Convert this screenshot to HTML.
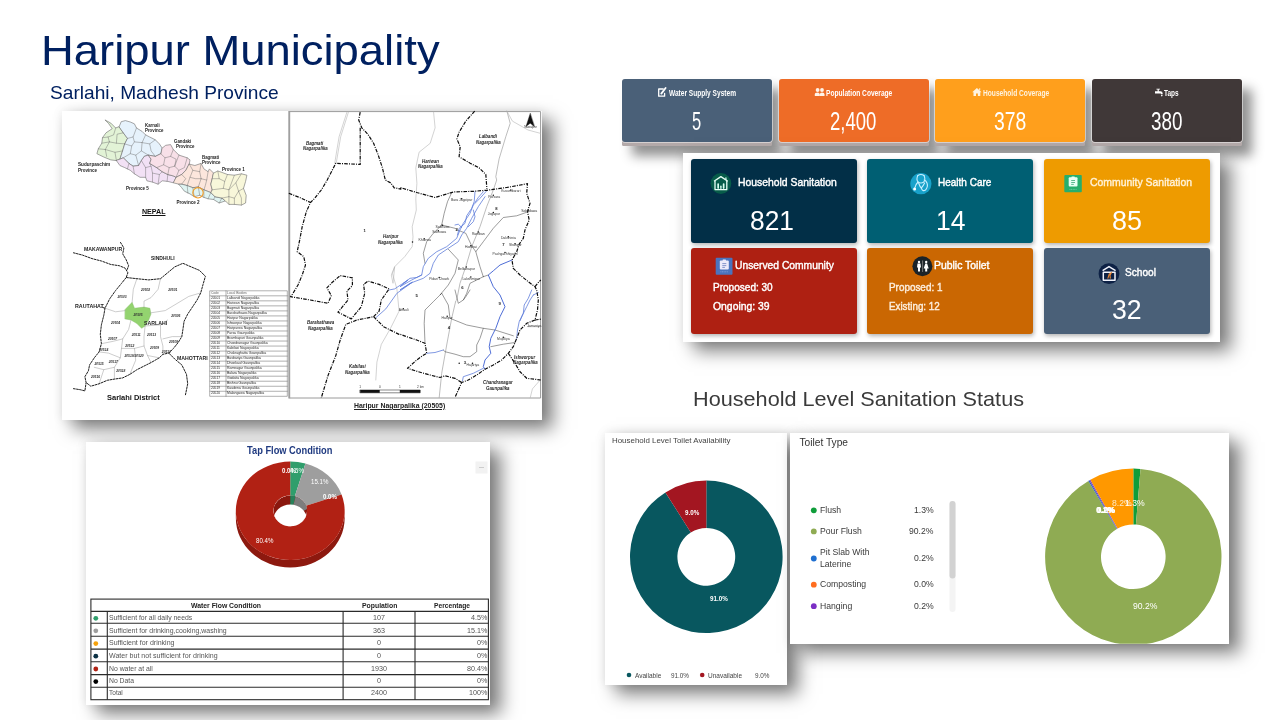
<!DOCTYPE html>
<html><head><meta charset="utf-8"><title>Haripur Municipality</title>
<style>
html,body{margin:0;padding:0;}
body{width:1280px;height:720px;overflow:hidden;background:#fff;position:relative;font-family:"Liberation Sans",sans-serif;}
.t{position:absolute;white-space:nowrap;line-height:1;transform-origin:0 0;font-family:"Liberation Sans",sans-serif;}
.abs{position:absolute;}
.panel{position:absolute;background:#fff;}
.card{position:absolute;border-radius:3px;}
svg{position:absolute;left:0;top:0;overflow:visible;}
</style></head><body>

<!-- map panel -->
<div class="panel" style="left:62px;top:111px;width:480px;height:309px;box-shadow:11px 9px 17px rgba(0,0,0,.5), 0 0 10px rgba(0,0,0,.09);"></div>

<!-- tap flow panel -->
<div class="panel" style="left:86px;top:442px;width:404px;height:263px;box-shadow:11px 9px 17px rgba(0,0,0,.5), 0 0 10px rgba(0,0,0,.09);"></div>

<!-- top cards -->
<div class="card" style="left:622px;top:78.5px;width:150px;height:67.3px;background:#b3a9a9;border-radius:3px 3px 1.5px 1.5px;box-shadow:10px 10px 12px rgba(0,0,0,.43);"><div style="height:63.2px;border-radius:3px;box-shadow:0 0 0 .8px rgba(255,255,255,.6);background:#4a6078"></div></div>
<div class="card" style="left:778.7px;top:78.5px;width:150px;height:67.3px;background:#b3a9a9;border-radius:3px 3px 1.5px 1.5px;box-shadow:10px 10px 12px rgba(0,0,0,.43);"><div style="height:63.2px;border-radius:3px;box-shadow:0 0 0 .8px rgba(255,255,255,.6);background:#ee6c27"></div></div>
<div class="card" style="left:935.3px;top:78.5px;width:150px;height:67.3px;background:#b3a9a9;border-radius:3px 3px 1.5px 1.5px;box-shadow:10px 10px 12px rgba(0,0,0,.43);"><div style="height:63.2px;border-radius:3px;box-shadow:0 0 0 .8px rgba(255,255,255,.6);background:#ff9f1c"></div></div>
<div class="card" style="left:1092px;top:78.5px;width:150px;height:67.3px;background:#b3a9a9;border-radius:3px 3px 1.5px 1.5px;box-shadow:10px 10px 12px rgba(0,0,0,.43);"><div style="height:63.2px;border-radius:3px;box-shadow:0 0 0 .8px rgba(255,255,255,.6);background:#403838"></div></div>

<!-- second panel -->
<div class="panel" style="left:683px;top:153px;width:537px;height:189px;box-shadow:11px 9px 17px rgba(0,0,0,.5), 0 0 10px rgba(0,0,0,.09);"></div>
<div class="card" style="left:691px;top:159px;width:166px;height:84px;background:#022f47;box-shadow:1px 2px 4px rgba(0,0,0,.3);"></div>
<div class="card" style="left:867.3px;top:159px;width:166px;height:84px;background:#005f73;box-shadow:1px 2px 4px rgba(0,0,0,.3);"></div>
<div class="card" style="left:1044px;top:159px;width:166px;height:84px;background:#ee9b00;box-shadow:1px 2px 4px rgba(0,0,0,.3);"></div>
<div class="card" style="left:691px;top:248.3px;width:166px;height:85.5px;background:#ae2012;box-shadow:1px 2px 4px rgba(0,0,0,.3);"></div>
<div class="card" style="left:867.3px;top:248.3px;width:166px;height:85.5px;background:#ca6702;box-shadow:1px 2px 4px rgba(0,0,0,.3);"></div>
<div class="card" style="left:1044px;top:248.3px;width:166px;height:85.5px;background:#4a6078;box-shadow:1px 2px 4px rgba(0,0,0,.3);"></div>

<!-- left donut panel -->
<div class="panel" style="left:605px;top:432.7px;width:182px;height:252px;box-shadow:11px 9px 17px rgba(0,0,0,.5), 0 0 10px rgba(0,0,0,.09);"></div>
<!-- toilet type panel -->
<div class="panel" style="left:790px;top:432.7px;width:439.2px;height:211px;box-shadow:11px 9px 17px rgba(0,0,0,.5), 0 0 10px rgba(0,0,0,.09);overflow:hidden;"></div>

<!-- graphics -->
<svg width="1280" height="720" viewBox="0 0 1280 720">
<g id="map" fill="none" stroke-linejoin="round" stroke-linecap="round">
<rect x="288.3" y="111" width="1.9" height="287.5" fill="#a0a0a0"/>
<path d="M290 111.6H540.6V398H290" stroke="#9a9a9a" stroke-width="1"/>
<path d="M105.3 120.1L110.8 123.1L115.7 128.0L119.2 126.6L123.3 132.8L127.5 138.4L124.7 143.9L122.6 150.9L119.9 159.2L116.4 160.6L110.8 159.9L103.9 157.1L96.9 153.7L98.3 148.8L101.8 143.2L102.5 137.7L106.0 132.8L112.2 128.7L108.8 123.8Z" fill="#e2f3d6" stroke="#6c6c6c" stroke-width="0.6"/>
<path d="M119.2 126.6L121.2 121.7L125.4 120.6L130.3 122.0L134.4 123.8L136.5 128.0L142.1 131.4L145.6 134.9L149.7 137.0L155.3 139.8L159.4 143.9L162.2 148.1L160.8 153.7L155.3 156.4L148.3 155.1L144.2 156.4L141.4 160.6L138.6 165.5L133.1 166.2L128.9 163.4L123.3 157.8L119.9 159.2L122.6 150.9L124.7 143.9L127.5 138.4L123.3 132.8Z" fill="#e6f2fc" stroke="#6c6c6c" stroke-width="0.6"/>
<path d="M119.9 159.2L123.3 157.8L128.9 163.4L133.1 166.2L138.6 165.5L141.4 160.6L144.2 156.4L148.3 155.1L151.1 159.2L149.7 163.4L156.7 167.6L162.2 171.7L167.8 174.5L173.3 175.9L176.1 177.3L173.3 182.8L167.8 181.4L162.2 180.8L158.1 184.2L152.5 182.1L146.9 180.8L145.6 177.3L140.0 177.3L134.4 173.8L130.3 170.3L124.7 167.6L119.9 165.5L116.4 160.6Z" fill="#f2e1f5" stroke="#6c6c6c" stroke-width="0.6"/>
<path d="M162.2 148.1L165.7 145.3L170.6 144.6L173.3 149.5L178.9 155.1L187.2 157.8L190.0 159.9L189.3 164.1L185.8 170.3L181.7 174.5L176.1 177.3L173.3 175.9L167.8 174.5L162.2 171.7L156.7 167.6L149.7 163.4L151.1 159.2L148.3 155.1L155.3 156.4L160.8 153.7Z" fill="#f8e0e8" stroke="#6c6c6c" stroke-width="0.6"/>
<path d="M189.3 164.1L194.9 165.5L201.1 163.4L203.9 168.9L208.1 171.7L209.4 168.9L213.6 173.1L212.2 178.7L210.8 184.2L212.2 189.8L210.8 192.6L203.9 189.8L198.3 187.0L192.8 187.7L187.2 185.6L181.7 184.2L178.9 184.2L173.3 182.8L176.1 177.3L181.7 174.5L185.8 170.3Z" fill="#fce6dc" stroke="#6c6c6c" stroke-width="0.6"/>
<path d="M178.9 184.2L181.7 184.2L187.2 185.6L192.8 187.7L198.3 187.0L203.9 189.8L210.8 192.6L215.0 196.7L221.9 198.1L225.4 200.9L219.2 203.0L213.6 199.5L208.1 198.8L203.9 197.4L199.7 195.3L194.2 196.7L190.0 193.9L184.4 191.2L181.7 187.7Z" fill="#e0f4f2" stroke="#6c6c6c" stroke-width="0.6"/>
<path d="M213.6 173.1L217.8 171.0L221.9 172.4L227.5 174.5L234.4 175.2L241.4 173.8L246.9 175.2L245.6 181.4L243.5 188.4L246.2 195.3L245.6 203.0L241.4 205.1L234.4 204.4L228.9 204.4L225.4 200.9L221.9 198.1L215.0 196.7L210.8 192.6L212.2 189.8L210.8 184.2L212.2 178.7Z" fill="#f8f7da" stroke="#6c6c6c" stroke-width="0.6"/>
<path d="M102.5 137.7L108.1 137.0L113.6 134.9L115.7 128.0" stroke="#6c6c6c" stroke-width="0.45"/>
<path d="M108.1 137.0L109.4 141.9L116.4 143.2L124.7 143.9" stroke="#6c6c6c" stroke-width="0.45"/>
<path d="M101.8 143.2L109.4 141.9" stroke="#6c6c6c" stroke-width="0.45"/>
<path d="M98.3 148.8L105.3 149.5L109.4 141.9" stroke="#6c6c6c" stroke-width="0.45"/>
<path d="M105.3 149.5L106.7 156.4" stroke="#6c6c6c" stroke-width="0.45"/>
<path d="M105.3 149.5L115.0 152.3L122.6 150.9" stroke="#6c6c6c" stroke-width="0.45"/>
<path d="M115.0 152.3L116.4 160.6" stroke="#6c6c6c" stroke-width="0.45"/>
<path d="M116.4 143.2L117.1 134.2L123.3 132.8" stroke="#6c6c6c" stroke-width="0.45"/>
<path d="M127.5 138.4L133.1 137.0L136.5 128.0" stroke="#6c6c6c" stroke-width="0.45"/>
<path d="M133.1 137.0L134.4 141.9L142.1 142.6L145.6 134.9" stroke="#6c6c6c" stroke-width="0.45"/>
<path d="M124.7 143.9L131.7 146.0L134.4 141.9" stroke="#6c6c6c" stroke-width="0.45"/>
<path d="M131.7 146.0L130.3 153.7L123.3 157.8" stroke="#6c6c6c" stroke-width="0.45"/>
<path d="M130.3 153.7L135.8 155.1L138.6 165.5" stroke="#6c6c6c" stroke-width="0.45"/>
<path d="M135.8 155.1L141.4 150.9L142.1 142.6" stroke="#6c6c6c" stroke-width="0.45"/>
<path d="M141.4 150.9L148.3 155.1" stroke="#6c6c6c" stroke-width="0.45"/>
<path d="M142.1 142.6L149.7 143.9L155.3 139.8" stroke="#6c6c6c" stroke-width="0.45"/>
<path d="M149.7 143.9L151.1 150.9L155.3 156.4" stroke="#6c6c6c" stroke-width="0.45"/>
<path d="M128.9 163.4L127.5 168.9" stroke="#6c6c6c" stroke-width="0.45"/>
<path d="M133.1 166.2L134.4 173.8" stroke="#6c6c6c" stroke-width="0.45"/>
<path d="M141.4 160.6L145.6 167.6L145.6 177.3" stroke="#6c6c6c" stroke-width="0.45"/>
<path d="M145.6 167.6L151.1 166.2L149.7 163.4" stroke="#6c6c6c" stroke-width="0.45"/>
<path d="M151.1 166.2L152.5 173.1L152.5 182.1" stroke="#6c6c6c" stroke-width="0.45"/>
<path d="M152.5 173.1L159.4 174.5L162.2 171.7" stroke="#6c6c6c" stroke-width="0.45"/>
<path d="M159.4 174.5L158.1 184.2" stroke="#6c6c6c" stroke-width="0.45"/>
<path d="M167.8 174.5L167.1 181.4" stroke="#6c6c6c" stroke-width="0.45"/>
<path d="M160.8 153.7L165.0 157.8L170.6 156.4L173.3 149.5" stroke="#6c6c6c" stroke-width="0.45"/>
<path d="M165.0 157.8L163.6 164.8L156.7 167.6" stroke="#6c6c6c" stroke-width="0.45"/>
<path d="M163.6 164.8L169.2 167.6L167.8 174.5" stroke="#6c6c6c" stroke-width="0.45"/>
<path d="M169.2 167.6L174.7 166.2L178.9 155.1" stroke="#6c6c6c" stroke-width="0.45"/>
<path d="M174.7 166.2L178.9 170.3L176.1 177.3" stroke="#6c6c6c" stroke-width="0.45"/>
<path d="M178.9 170.3L184.4 167.6L187.2 157.8" stroke="#6c6c6c" stroke-width="0.45"/>
<path d="M170.6 156.4L176.1 159.2L174.7 166.2" stroke="#6c6c6c" stroke-width="0.45"/>
<path d="M189.3 164.1L192.8 170.3L190.0 177.3L187.2 185.6" stroke="#6c6c6c" stroke-width="0.45"/>
<path d="M192.8 170.3L199.7 171.7L201.1 163.4" stroke="#6c6c6c" stroke-width="0.45"/>
<path d="M199.7 171.7L201.1 178.7L198.3 187.0" stroke="#6c6c6c" stroke-width="0.45"/>
<path d="M201.1 178.7L206.7 180.1L208.1 171.7" stroke="#6c6c6c" stroke-width="0.45"/>
<path d="M206.7 180.1L205.3 185.6L203.9 189.8" stroke="#6c6c6c" stroke-width="0.45"/>
<path d="M190.0 177.3L195.6 178.7L201.1 178.7" stroke="#6c6c6c" stroke-width="0.45"/>
<path d="M181.7 174.5L185.8 178.7L181.7 184.2" stroke="#6c6c6c" stroke-width="0.45"/>
<path d="M187.2 185.6L187.9 193.2" stroke="#6c6c6c" stroke-width="0.45"/>
<path d="M192.8 187.7L194.2 196.7" stroke="#6c6c6c" stroke-width="0.45"/>
<path d="M198.3 187.0L199.7 195.3" stroke="#6c6c6c" stroke-width="0.45"/>
<path d="M203.9 189.8L203.9 197.4" stroke="#6c6c6c" stroke-width="0.45"/>
<path d="M210.8 192.6L208.1 198.8" stroke="#6c6c6c" stroke-width="0.45"/>
<path d="M215.0 196.7L213.6 199.5" stroke="#6c6c6c" stroke-width="0.45"/>
<path d="M221.9 198.1L219.2 203.0" stroke="#6c6c6c" stroke-width="0.45"/>
<path d="M217.8 171.0L219.2 178.7L212.2 178.7" stroke="#6c6c6c" stroke-width="0.45"/>
<path d="M219.2 178.7L224.7 181.4L227.5 174.5" stroke="#6c6c6c" stroke-width="0.45"/>
<path d="M224.7 181.4L223.3 188.4L212.2 189.8" stroke="#6c6c6c" stroke-width="0.45"/>
<path d="M223.3 188.4L228.9 189.8L234.4 175.2" stroke="#6c6c6c" stroke-width="0.45"/>
<path d="M228.9 189.8L228.9 196.7L221.9 198.1" stroke="#6c6c6c" stroke-width="0.45"/>
<path d="M228.9 196.7L234.4 198.1L234.4 204.4" stroke="#6c6c6c" stroke-width="0.45"/>
<path d="M234.4 198.1L238.6 191.2L243.5 188.4" stroke="#6c6c6c" stroke-width="0.45"/>
<path d="M238.6 191.2L235.8 182.8L241.4 173.8" stroke="#6c6c6c" stroke-width="0.45"/>
<path d="M228.9 189.8L235.8 182.8" stroke="#6c6c6c" stroke-width="0.45"/>
<path d="M228.9 196.7L228.9 204.4" stroke="#6c6c6c" stroke-width="0.45"/>
<path d="M238.6 191.2L241.4 198.1L241.4 205.1" stroke="#6c6c6c" stroke-width="0.45"/>
<circle cx="198" cy="192.8" r="5.2" stroke="#f29a22" stroke-width="1.1"/>
<path d="M125.1 309.4L132.1 302.3L134.5 308.2L144.0 307.1L149.9 308.2L151.0 314.1L148.7 320.0L145.1 326.0L141.6 328.3L136.9 323.6L131.0 320.0L125.1 318.9Z" fill="#93d36f" stroke="#7fb860" stroke-width="0.4"/>
<path d="M136.9 278.7L133.3 289.3L132.1 302.3" stroke="#9a9a9a" stroke-width="0.5"/>
<path d="M160.5 278.7L158.1 289.3L151.0 297.6L144.0 301.1L144.0 307.1" stroke="#9a9a9a" stroke-width="0.5"/>
<path d="M149.9 313.0L165.2 310.6L177.0 303.5L188.8 296.4L200.7 292.9" stroke="#9a9a9a" stroke-width="0.5"/>
<path d="M105.0 308.2L115.6 311.8L125.1 310.6" stroke="#9a9a9a" stroke-width="0.5"/>
<path d="M131.0 320.0L128.6 329.5L122.7 338.9L113.2 341.3L101.4 343.7" stroke="#9a9a9a" stroke-width="0.5"/>
<path d="M145.1 326.0L144.0 336.6L144.0 346.0L147.5 355.5L151.0 362.6" stroke="#9a9a9a" stroke-width="0.5"/>
<path d="M122.7 338.9L121.5 348.4L120.3 357.8L114.4 367.3L114.4 379.1" stroke="#9a9a9a" stroke-width="0.5"/>
<path d="M144.0 346.0L134.5 348.4L121.5 348.4" stroke="#9a9a9a" stroke-width="0.5"/>
<path d="M160.5 324.8L160.5 336.6L162.9 346.0L162.9 354.3" stroke="#9a9a9a" stroke-width="0.5"/>
<path d="M145.1 326.0L160.5 324.8L167.6 320.0" stroke="#9a9a9a" stroke-width="0.5"/>
<path d="M162.9 338.9L172.3 336.6L181.8 336.6" stroke="#9a9a9a" stroke-width="0.5"/>
<path d="M99.1 351.9L108.5 353.1L120.3 357.8" stroke="#9a9a9a" stroke-width="0.5"/>
<path d="M94.3 367.3L103.8 369.7L114.4 367.3" stroke="#9a9a9a" stroke-width="0.5"/>
<path d="M134.5 348.4L135.7 360.2L129.8 374.4" stroke="#9a9a9a" stroke-width="0.5"/>
<path d="M103.8 369.7L99.1 383.8" stroke="#9a9a9a" stroke-width="0.5"/>
<path d="M147.5 355.5L159.3 357.8" stroke="#9a9a9a" stroke-width="0.5"/>
<path d="M126.2 277.5L136.9 278.7L148.7 279.9L160.5 278.7L167.6 272.8L174.7 266.9L182.9 263.3L191.2 266.9L199.5 270.4L205.4 276.3L203.0 284.6L200.7 292.9L197.1 300.0L192.4 307.1L187.7 314.1L184.1 321.2L182.9 329.5L181.8 336.6L178.2 342.5L173.5 348.4L168.8 353.1L162.9 354.3L159.3 357.8L151.0 362.6L144.0 366.1L136.9 369.7L129.8 374.4L122.7 377.9L114.4 379.1L107.3 380.3L99.1 383.8L90.8 386.2L86.1 382.6L84.9 376.7L88.4 370.8L89.6 364.9L94.3 357.8L99.1 351.9L101.4 343.7L100.3 334.2L101.4 324.8L103.8 315.3L105.0 308.2L109.7 298.8L115.6 290.5L121.5 283.4Z" stroke="#111" stroke-width="0.95" stroke-dasharray="2.6 0.5" stroke-linecap="butt"/>
<path d="M73.1 252.7L82.5 255.1L92.0 258.6L101.4 261.0L110.9 264.5L119.2 265.7L125.1 268.1L127.9 272.8L126.2 277.5" stroke="#111" stroke-width="0.95" stroke-dasharray="2.6 0.5" stroke-linecap="butt"/>
<path d="M120.3 242.1L123.9 248.0L122.7 253.9L126.2 259.8L128.6 265.7L126.9 270.4" stroke="#111" stroke-width="0.95" stroke-dasharray="2.6 0.5" stroke-linecap="butt"/>
<path d="M168.8 353.1L174.7 359.0L181.8 364.9L186.5 374.4L187.7 383.8L185.3 395.6" stroke="#111" stroke-width="0.95" stroke-dasharray="2.6 0.5" stroke-linecap="butt"/>
<path d="M73.1 388.6L80.2 389.7L84.9 390.9L86.1 382.6" stroke="#111" stroke-width="0.95" stroke-dasharray="2.6 0.5" stroke-linecap="butt"/>
<path d="M105.0 308.2L101.4 307.1" stroke="#111" stroke-width="0.95" stroke-dasharray="2.6 0.5" stroke-linecap="butt"/>
<g stroke="#6e6e6e" stroke-width="0.55"><rect x="210.1" y="290.8" width="77.20000000000002" height="105.5"/>
<path d="M210.1 295.82H287.3"/>
<path d="M210.1 300.85H287.3"/>
<path d="M210.1 305.87H287.3"/>
<path d="M210.1 310.90H287.3"/>
<path d="M210.1 315.92H287.3"/>
<path d="M210.1 320.94H287.3"/>
<path d="M210.1 325.97H287.3"/>
<path d="M210.1 330.99H287.3"/>
<path d="M210.1 336.01H287.3"/>
<path d="M210.1 341.04H287.3"/>
<path d="M210.1 346.06H287.3"/>
<path d="M210.1 351.09H287.3"/>
<path d="M210.1 356.11H287.3"/>
<path d="M210.1 361.13H287.3"/>
<path d="M210.1 366.16H287.3"/>
<path d="M210.1 371.18H287.3"/>
<path d="M210.1 376.20H287.3"/>
<path d="M210.1 381.23H287.3"/>
<path d="M210.1 386.25H287.3"/>
<path d="M210.1 391.28H287.3"/>
<path d="M226 290.8V396.3"/></g>
<path d="M346.9 112.2L339.1 136.7L334.7 163.3" stroke="#b5b5b5" stroke-width="0.6"/>
<path d="M348.4 112.2L340.7 136.7L336.2 163.3" stroke="#b5b5b5" stroke-width="0.6"/>
<path d="M433.6 112.2L435.1 127.8L430.2 143.3L419.1 152.2L415.8 167.8L416.9 183.3L415.8 198.9L416.3 210.0L412.2 226.7L413.0 236.7L412.2 246.7L404.7 256.7L394.7 266.7L391.3 275.0L393.0 283.3L394.7 266.7L392.4 273.3L396.9 288.9L399.1 311.1L390.2 328.9L381.3 344.4L376.9 362.2L375.8 380.0" stroke="#b5b5b5" stroke-width="0.6"/>
<path d="M506.9 111.1L510.2 123.3L505.8 136.7L499.1 158.9L495.8 176.7L496.7 180.0L493.3 190.0L486.7 206.7L480.0 226.7L471.7 246.7L465.8 266.7L460.0 283.3L456.7 300.0L455.8 300.8L451.7 318.3L446.7 345.0L441.7 373.3L439.2 397.5" stroke="#a0a0a0" stroke-width="0.7"/>
<path d="M506.9 111.1L512.4 121.1L528.0 130.0L540.2 133.3" stroke="#b5b5b5" stroke-width="0.6"/>
<path d="M528.0 326.7L540.2 326.7" stroke="#b5b5b5" stroke-width="0.6"/>
<path d="M540.2 380.0L532.4 388.9L530.2 397.8" stroke="#b5b5b5" stroke-width="0.6"/>
<path d="M451.7 192.5L447.5 201.7L444.2 213.3L441.7 225.0L433.3 233.3L426.7 241.7L423.3 253.3L425.0 263.3" stroke="#4a4a4a" stroke-width="0.55"/>
<path d="M441.7 225.0L455.0 228.3L457.5 230.0L465.8 233.3L471.7 245.8L475.8 251.7L480.0 266.7L483.3 276.7" stroke="#4a4a4a" stroke-width="0.55"/>
<path d="M528.3 211.7L516.7 215.8L503.3 217.5L493.3 228.3L483.3 241.7L475.8 251.7" stroke="#4a4a4a" stroke-width="0.55"/>
<path d="M448.3 249.2L458.3 260.0L455.0 273.3L448.3 285.0L440.0 295.0L441.7 293.3L433.3 301.7L425.0 310.0L424.2 323.3L425.0 343.3" stroke="#4a4a4a" stroke-width="0.55"/>
<path d="M483.3 276.7L470.0 283.3L466.7 293.3L463.3 300.0L458.3 303.3L455.0 290.0" stroke="#4a4a4a" stroke-width="0.55"/>
<path d="M483.3 276.7L488.3 275.0" stroke="#4a4a4a" stroke-width="0.55"/>
<path d="M441.7 293.3L448.3 305.0L450.0 318.3L466.7 325.0L483.3 328.3L495.0 330.0L513.3 335.8" stroke="#4a4a4a" stroke-width="0.55"/>
<path d="M483.3 328.3L480.0 338.3L476.7 345.0L476.7 351.7L470.0 356.7L463.3 356.7L455.0 354.2L445.0 351.7L443.3 350.0" stroke="#4a4a4a" stroke-width="0.55"/>
<path d="M490.8 346.7L503.3 344.2L515.0 342.5" stroke="#4a4a4a" stroke-width="0.55"/>
<path d="M463.3 300.0L465.8 296.7L470.0 290.0" stroke="#4a4a4a" stroke-width="0.55"/>
<path d="M456.9 260.0L452.4 273.3L441.3 293.3L425.8 308.9L423.6 342.2" stroke="#4a4a4a" stroke-width="0.0"/>
<path d="M486.7 190.8L480.0 198.3L473.3 205.0L470.0 213.3L463.3 223.3L460.0 230.0L456.7 238.3L446.7 246.7L436.7 251.7L428.3 258.3L423.3 266.7L421.7 275.0L411.7 280.0L400.0 286.7L408.0 280.0L394.7 288.9L389.1 290.0" stroke="#5676d8" stroke-width="0.75"/>
<path d="M485.0 196.7L478.3 206.7L471.7 218.3L466.7 228.3L461.7 235.0L458.3 241.7L448.3 248.3L438.3 255.0L433.3 263.3L430.0 273.3L423.3 278.3L410.0 283.3L400.0 290.0L412.4 282.2L396.9 293.3L385.8 308.9L375.8 317.8" stroke="#5676d8" stroke-width="0.75"/>
<path d="M475.0 191.7L474.2 201.7L471.7 208.3L466.7 215.8L465.0 223.3L459.2 228.3L457.5 235.0" stroke="#5676d8" stroke-width="0.75"/>
<path d="M473.3 210.0L475.0 216.7L473.3 221.7L468.3 226.7" stroke="#5676d8" stroke-width="0.75"/>
<path d="M483.3 191.7L478.3 197.5L475.0 202.5" stroke="#5676d8" stroke-width="0.75"/>
<path d="M455.0 225.0L458.3 224.2L461.7 227.5" stroke="#5676d8" stroke-width="0.75"/>
<path d="M421.7 275.0L416.7 277.5L410.0 278.3L403.3 283.3" stroke="#5676d8" stroke-width="0.75"/>
<path d="M512.0 260.0L500.0 265.0L493.3 270.8L488.3 275.0L493.3 286.7L500.0 295.0L505.0 306.7L500.0 316.7L495.8 328.3L490.8 338.3L489.2 346.7L490.8 353.3L485.0 360.0L483.3 366.7L485.0 369.2" stroke="#4565d4" stroke-width="0.95"/>
<path d="M531.7 290.0L528.3 298.3L524.2 305.0L523.3 313.3L519.2 321.7L517.5 330.0L516.7 338.3" stroke="#5676d8" stroke-width="0.75"/>
<path d="M533.3 295.0L530.0 300.0L526.7 306.7L522.5 315.0L520.0 320.8" stroke="#5676d8" stroke-width="0.75"/>
<path d="M538.3 292.5L533.3 295.0" stroke="#5676d8" stroke-width="0.75"/>
<path d="M483.3 368.3L473.3 373.3L463.3 376.7L462.5 380.8" stroke="#5676d8" stroke-width="0.75"/>
<path d="M443.3 350.0L435.0 352.5L426.7 353.3" stroke="#5676d8" stroke-width="0.75"/>
<path d="M360.2 112.2L358.7 120.0L361.8 127.8L368.0 134.4L373.6 143.3L378.0 154.4L382.4 167.8L385.3 180.0L390.7 182.9L394.2 187.8L400.9 189.1L400.0 187.5L416.7 192.5L435.0 197.5L453.3 192.0L473.3 191.3L486.7 190.3L506.7 187.5L527.5 183.7L526.7 193.3L530.0 203.3L527.5 211.7L529.2 220.0L525.0 230.0L523.3 238.3L519.2 244.2L516.7 251.7L512.0 260.0L513.3 268.3L520.0 275.0L528.3 281.7L535.0 286.7L536.7 290.0L538.3 300.0L537.5 310.0L535.0 320.0L526.7 323.3L520.0 330.0L516.7 338.3L513.3 346.7L508.3 353.3L501.7 360.0L493.3 365.0L485.0 369.2L476.7 375.0L468.3 380.0L461.7 382.5L458.3 390.0L455.0 397.5" stroke="#0c0c0c" stroke-width="1.2" stroke-dasharray="3.6 1.2 1 1.2" stroke-linecap="butt"/>
<path d="M535.0 286.7L538.3 282.5L540.8 280.0" stroke="#0c0c0c" stroke-width="1.2" stroke-dasharray="3.6 1.2 1 1.2" stroke-linecap="butt"/>
<path d="M535.0 320.0L540.8 319.2" stroke="#0c0c0c" stroke-width="1.2" stroke-dasharray="3.6 1.2 1 1.2" stroke-linecap="butt"/>
<path d="M360.2 127.8L360.2 164.4L335.8 163.3L327.2 180.0L321.3 190.0L314.7 198.3L310.5 202.5L306.3 211.7L302.2 226.7L299.7 240.0L297.2 251.7L303.8 256.7L305.5 265.0L302.2 275.0L298.0 285.0L293.0 293.3L290.5 296.7L310.2 300.0L328.0 303.3L331.3 295.6L326.9 287.8L332.4 282.2L340.2 275.6L352.4 277.8L352.4 285.6L346.9 291.1L348.0 300.0L338.0 312.2L351.3 318.9L361.3 306.7L364.7 293.3L363.6 284.4L368.0 281.1L379.1 284.4L389.1 288.9L381.3 300.0L379.1 311.1L373.6 316.7L356.9 320.0L345.8 324.4L340.2 340.0L335.8 355.6L328.0 375.6L321.3 397.8" stroke="#0c0c0c" stroke-width="1.2" stroke-dasharray="3.6 1.2 1 1.2" stroke-linecap="butt"/>
<path d="M288.8 193.3L299.7 197.5L310.5 202.5" stroke="#0c0c0c" stroke-width="1.2" stroke-dasharray="3.6 1.2 1 1.2" stroke-linecap="butt"/>
<path d="M373.6 316.7L383.6 326.7L399.1 334.4L400.0 334.2L406.7 336.7L416.7 340.0L425.0 343.3L426.7 353.3L422.5 355.8L416.7 360.0L407.5 368.3L418.3 371.7L430.0 375.0L440.0 377.5L445.0 375.8L455.0 378.3L461.7 382.5" stroke="#0c0c0c" stroke-width="1.2" stroke-dasharray="3.6 1.2 1 1.2" stroke-linecap="butt"/>
<path d="M474.7 111.1L465.8 121.1L459.1 132.2L456.9 138.9L460.2 146.7L459.1 156.7L470.2 163.3L479.1 167.8L485.8 174.4L486.9 188.9" stroke="#0c0c0c" stroke-width="1.2" stroke-dasharray="3.6 1.2 1 1.2" stroke-linecap="butt"/>
<path d="M508.3 353.3L515.0 363.3L520.0 371.7L526.7 378.3L540.8 380.0" stroke="#0c0c0c" stroke-width="1.2" stroke-dasharray="3.6 1.2 1 1.2" stroke-linecap="butt"/>
<rect x="360.2" y="390" width="60" height="2.8" fill="#fff" stroke="#111" stroke-width="0.5"/><rect x="360.2" y="390" width="19.5" height="2.8" fill="#111"/><rect x="399.8" y="390" width="20.4" height="2.8" fill="#111"/>
<path d="M530.2 113.5L526 126.5L530.2 123.2L534.4 126.5Z" fill="#111" stroke="#111" stroke-width="0.4"/>
<circle cx="461.7" cy="198.7" r="0.75" fill="#111"/>
<circle cx="493.3" cy="195.3" r="0.75" fill="#111"/>
<circle cx="510.8" cy="190.0" r="0.75" fill="#111"/>
<circle cx="493.3" cy="212.5" r="0.75" fill="#111"/>
<circle cx="528.3" cy="210.0" r="0.75" fill="#111"/>
<circle cx="442.5" cy="225.3" r="0.75" fill="#111"/>
<circle cx="438.3" cy="230.8" r="0.75" fill="#111"/>
<circle cx="478.3" cy="232.0" r="0.75" fill="#111"/>
<circle cx="424.2" cy="238.7" r="0.75" fill="#111"/>
<circle cx="412.5" cy="242.0" r="0.75" fill="#111"/>
<circle cx="470.8" cy="245.8" r="0.75" fill="#111"/>
<circle cx="508.3" cy="236.7" r="0.75" fill="#111"/>
<circle cx="515.0" cy="243.8" r="0.75" fill="#111"/>
<circle cx="505.0" cy="252.5" r="0.75" fill="#111"/>
<circle cx="466.3" cy="267.0" r="0.75" fill="#111"/>
<circle cx="439.2" cy="277.5" r="0.75" fill="#111"/>
<circle cx="470.8" cy="277.0" r="0.75" fill="#111"/>
<circle cx="447.2" cy="316.3" r="0.75" fill="#111"/>
<circle cx="503.3" cy="337.2" r="0.75" fill="#111"/>
<circle cx="472.5" cy="363.3" r="0.75" fill="#111"/>
<circle cx="459.2" cy="363.3" r="0.75" fill="#111"/>
<circle cx="403.3" cy="308.7" r="0.75" fill="#111"/>
</g>
<g id="tap3d">
<path d="M235.85 510.8A54.4 49.2 0 0 0 344.65 510.8L344.65 518.3A54.4 49.2 0 0 1 235.85 518.3Z" fill="#8d190f"/>
<clipPath id="holeclip"><ellipse cx="290.25" cy="510.8" rx="16.8" ry="15.4"/></clipPath>
<path d="M290.25 461.60A54.4 49.2 0 0 1 305.43 463.55L294.94 496.01A16.8 15.4 0 0 0 290.25 495.40Z" fill="#2f9e6c" />
<path d="M305.43 463.55A54.4 49.2 0 0 1 341.55 494.43L306.09 505.67A16.8 15.4 0 0 0 294.94 496.01Z" fill="#9e9e9e" />
<path d="M341.55 494.43A54.4 49.2 0 1 1 290.25 461.60L290.25 495.40A16.8 15.4 0 1 0 306.09 505.67Z" fill="#b12114" />
<g clip-path="url(#holeclip)">
<ellipse cx="290.25" cy="510.8" rx="16.8" ry="15.4" fill="#8a170e"/>
<path d="M290.25 518.3L290.25 470.80L301.41 472.39Z" fill="#27815a"/>
<path d="M290.25 518.3L301.41 472.39L327.97 497.49Z" fill="#7d7d7d"/>
<ellipse cx="290.25" cy="519.8" rx="16.8" ry="15.4" fill="#fff"/>
</g></g>
<g id="tbl" stroke="#2b2b2b" stroke-width="1.1" fill="none">
<rect x="90.9" y="599.1" width="397.5" height="100.60000000000002"/>
<path d="M90.9 611.4H488.4"/>
<path d="M90.9 623.2H488.4"/>
<path d="M90.9 636.3H488.4"/>
<path d="M90.9 649.1H488.4"/>
<path d="M90.9 661.8H488.4"/>
<path d="M90.9 674.6H488.4"/>
<path d="M90.9 687.2H488.4"/>
<path d="M107.3 611.4V699.7"/>
<path d="M343.1 611.4V699.7"/>
<path d="M415 611.4V699.7"/>
</g>
<circle cx="95.8" cy="618.3" r="2.4" fill="#2f9e6c"/>
<circle cx="95.8" cy="630.8" r="2.4" fill="#9e9e9e"/>
<circle cx="95.8" cy="643.6" r="2.4" fill="#f5a10a"/>
<circle cx="95.8" cy="656.2" r="2.4" fill="#0b3044"/>
<circle cx="95.8" cy="669" r="2.4" fill="#b12114"/>
<circle cx="95.8" cy="681.6" r="2.4" fill="#000"/>
<rect x="475.5" y="461.5" width="12" height="12" fill="#f2f2f2"/><path d="M479 467.5h5" stroke="#ccc" stroke-width="1"/>
<g id="ldonut">
<path d="M706.30 480.50A76.3 76.3 0 1 1 665.42 492.38L690.81 532.40A28.9 28.9 0 1 0 706.30 527.90Z" fill="#08575f" />
<path d="M665.42 492.38A76.3 76.3 0 0 1 706.30 480.50L706.30 527.90A28.9 28.9 0 0 0 690.81 532.40Z" fill="#a31621" />
</g>
<circle cx="629" cy="675" r="2.3" fill="#08575f"/><circle cx="702.2" cy="675" r="2.3" fill="#a31621"/>
<clipPath id="tpclip"><rect x="790" y="432.7" width="439.2" height="211"/></clipPath>
<g id="rdonut" clip-path="url(#tpclip)">
<path d="M1133.30 468.60A88.2 88.2 0 0 1 1140.50 468.89L1135.94 524.61A32.3 32.3 0 0 0 1133.30 524.50Z" fill="#0f9d3a" />
<path d="M1140.50 468.89A88.2 88.2 0 1 1 1088.40 480.88L1116.86 529.00A32.3 32.3 0 1 0 1135.94 524.61Z" fill="#8fab53" />
<path d="M1088.40 480.88A88.2 88.2 0 0 1 1089.33 480.34L1117.20 528.80A32.3 32.3 0 0 0 1116.86 529.00Z" fill="#2f5fc4" />
<path d="M1089.33 480.34A88.2 88.2 0 0 1 1089.40 480.30L1117.22 528.79A32.3 32.3 0 0 0 1117.20 528.80Z" fill="#ff6d1f" />
<path d="M1089.40 480.30A88.2 88.2 0 0 1 1090.41 479.73L1117.59 528.58A32.3 32.3 0 0 0 1117.22 528.79Z" fill="#7b3fc4" />
<path d="M1090.41 479.73A88.2 88.2 0 0 1 1133.30 468.60L1133.30 524.50A32.3 32.3 0 0 0 1117.59 528.58Z" fill="#ff9800" />
</g>
<circle cx="813.8" cy="510.3" r="2.9" fill="#0f9d3a"/>
<circle cx="813.8" cy="531.4" r="2.9" fill="#8fab53"/>
<circle cx="813.8" cy="558.5" r="2.9" fill="#1f6fd0"/>
<circle cx="813.8" cy="584.7" r="2.9" fill="#ff6d1f"/>
<circle cx="813.8" cy="606.2" r="2.9" fill="#7b2fc4"/>
<rect x="949.5" y="501" width="6" height="111" rx="3" fill="#f4f4f4"/><rect x="949.5" y="501" width="6" height="77.5" rx="3" fill="#d2d2d2"/>
<g id="icons">
<!-- top card icons -->
<g fill="none" stroke="#fff" stroke-width="1.3" stroke-linejoin="round" stroke-linecap="round">
  <path d="M663.2 89H658.7V96.2H664.6V93.4"/>
  <path d="M661.3 93.6L665.6 88" stroke-width="1.8"/>
</g>
<g fill="#fff3e8">
  <circle cx="817.6" cy="90" r="1.9"/><circle cx="822" cy="90" r="1.9"/>
  <path d="M814.8 95.9V94.4Q814.8 92.5 817.6 92.5Q819.6 92.5 819.8 94.4V95.9Z"/>
  <path d="M819.8 95.9V94.4Q819.9 92.5 822 92.5Q824.5 92.5 824.5 94.4V95.9Z"/>
</g>
<g fill="#fff3df">
  <path d="M976.9 87.9L972.2 92.2H973.5V96H976V93.4H977.9V96H980.3V92.2H981.6Z"/>
  <rect x="979.2" y="88.3" width="1" height="2"/>
</g>
<g fill="#fff">
  <path d="M1155 91.3H1157.6V89.6H1156.4V88.8H1160V89.6H1158.8V91.3H1160.4Q1162.7 91.3 1162.7 93.4V94.3H1160.9V93.6H1155Z"/>
  <circle cx="1161.8" cy="95.6" r="0.8"/>
</g>
<!-- household sanitation -->
<circle cx="720.9" cy="183.5" r="10.4" fill="#075c49"/>
<g fill="none" stroke="#e9fff6" stroke-width="1.3" stroke-linejoin="round">
  <path d="M714 181.2L720.9 176.6L727.8 181.2"/>
  <path d="M715 181V189.6H726.8V181"/>
</g>
<g fill="#d8fff0"><rect x="717.3" y="183.3" width="1.7" height="5.6" rx=".8"/><rect x="722.8" y="183.3" width="1.7" height="5.6" rx=".8"/><rect x="720.2" y="185.6" width="1.4" height="3.3" rx=".6"/><rect x="725.3" y="177.4" width="1.2" height="2.6"/></g>
<!-- health care -->
<circle cx="920.9" cy="183.7" r="10.6" fill="#18a2ca"/>
<g fill="none" stroke="#c9f0ff" stroke-width="1.1" stroke-linecap="round">
  <path d="M917.8 175.5Q916 179.5 918 182Q920.9 184 923.8 182Q925.8 179.5 924 175.5"/>
  <path d="M917.8 175.5Q920.9 173.6 924 175.5"/>
  <path d="M918.6 183Q920 187 921.3 188Q923.2 186 924.6 183"/>
  <path d="M921.3 188Q922.5 192 925.5 190Q928.3 187 927 183Q926 180.5 924.2 180"/>
  <path d="M918 182Q915.5 184.5 914.8 188"/>
</g>
<circle cx="914.6" cy="189" r="1.5" fill="#fff"/>
<!-- community sanitation -->
<rect x="1064.3" y="175" width="17.5" height="17.2" rx="1" fill="#27ae6c"/>
<rect x="1068.7" y="177.3" width="8.8" height="9.2" rx="1" fill="#e8fff4"/><rect x="1071.4" y="176.4" width="3.4" height="1.6" rx=".6" fill="#e8fff4"/>
<path d="M1071.2 180.5h3.8M1071.2 182.5h3.8M1071.2 184.4h2.6" stroke="#3aa877" stroke-width=".8"/>
<path d="M1069.5 189.4h7" stroke="#7fdcae" stroke-width=".7" stroke-dasharray="1 .6"/>
<!-- unserved community -->
<rect x="715.7" y="257.8" width="16.8" height="17" rx="1" fill="#4a73bd"/>
<rect x="719.8" y="260.4" width="9" height="9.2" rx="1" fill="#eceafa"/><rect x="722.6" y="259.5" width="3.4" height="1.6" rx=".6" fill="#eceafa"/>
<path d="M722.3 263.6h4M722.3 265.6h4M722.3 267.4h2.6" stroke="#6a7fbf" stroke-width=".8"/>
<path d="M720.4 271.8h7.6" stroke="#93abe0" stroke-width=".7" stroke-dasharray="1 .6"/>
<!-- public toilet -->
<circle cx="922.4" cy="266.3" r="10" fill="#1b2328"/>
<g fill="#fff">
  <circle cx="919" cy="262" r="1.2"/><path d="M917.5 263.6h3l.5 4h-1v4h-2v-4h-1Z"/>
  <circle cx="926.2" cy="262" r="1.2"/><path d="M925.3 263.6h1.8l1.6 5h-1.5v3h-2v-3h-1.5Z"/>
</g>
<path d="M922.6 260.5V272" stroke="#9a9a9a" stroke-width=".7"/>
<!-- school -->
<circle cx="1109" cy="273.7" r="10.4" fill="#0d2145"/>
<g fill="none" stroke="#f1f3fb" stroke-width="1.5" stroke-linejoin="round">
  <path d="M1102.6 270.6L1109 266.6L1115.6 270.6"/>
  <path d="M1103.3 272.2V280.2H1115V272.2Z"/>
</g>
<path d="M1107.8 278.6L1109.2 274.2L1111.2 273L1110 275.6L1110.4 278.6" stroke="#e98a3a" stroke-width="1.1" fill="none"/>
</g>

</svg>

<div id="txt" style="position:absolute;left:0;top:0;width:1280px;height:720px;will-change:transform;">
<span class="t" style="left:40.70px;top:30.26px;font-size:42.3px;color:#002060;transform:scaleX(1.0732);">Haripur Municipality</span>
<span class="t" style="left:49.50px;top:83.52px;font-size:18.2px;color:#002060;transform:scaleX(1.0517);">Sarlahi, Madhesh Province</span>
<span class="t" style="left:668.80px;top:87.59px;font-size:9.6px;color:#fff;font-weight:700;transform:scaleX(0.6854);">Water Supply System</span>
<span class="t" style="left:692.40px;top:108.85px;font-size:25.5px;color:#fff;transform:scaleX(0.6485);">5</span>
<span class="t" style="left:826.00px;top:87.59px;font-size:9.6px;color:#fff;font-weight:700;transform:scaleX(0.6910);">Population Coverage</span>
<span class="t" style="left:830.40px;top:108.85px;font-size:25.5px;color:#fff;transform:scaleX(0.7271);">2,400</span>
<span class="t" style="left:982.80px;top:87.59px;font-size:9.6px;color:#fff3df;font-weight:700;transform:scaleX(0.6908);">Household Coverage</span>
<span class="t" style="left:994.35px;top:108.85px;font-size:25.5px;color:#fff;transform:scaleX(0.7592);">378</span>
<span class="t" style="left:1164.10px;top:87.59px;font-size:9.6px;color:#fff;font-weight:700;transform:scaleX(0.6778);">Taps</span>
<span class="t" style="left:1151.30px;top:108.85px;font-size:25.5px;color:#fff;transform:scaleX(0.7380);">380</span>
<span class="t" style="left:738.30px;top:177.32px;font-size:11.1px;color:#fff;transform:scaleX(0.9358);-webkit-text-stroke:.42px #fff;">Household Sanitation</span>
<span class="t" style="left:750.00px;top:207.34px;font-size:28px;color:#fff;transform:scaleX(0.9418);">821</span>
<span class="t" style="left:937.60px;top:177.32px;font-size:11.1px;color:#fff;transform:scaleX(0.9020);-webkit-text-stroke:.42px #fff;">Health Care</span>
<span class="t" style="left:936.05px;top:207.34px;font-size:28px;color:#fff;transform:scaleX(0.9468);">14</span>
<span class="t" style="left:1089.70px;top:177.32px;font-size:11.1px;color:#fff1d6;transform:scaleX(0.9398);-webkit-text-stroke:.42px #fff1d6;">Community Sanitation</span>
<span class="t" style="left:1111.70px;top:207.34px;font-size:28px;color:#fff;transform:scaleX(0.9629);">85</span>
<span class="t" style="left:734.70px;top:259.52px;font-size:11.1px;color:#fff;transform:scaleX(0.9271);-webkit-text-stroke:.42px #fff;">Unserved Community</span>
<span class="t" style="left:712.80px;top:282.40px;font-size:11px;color:#fff;transform:scaleX(0.9123);-webkit-text-stroke:.42px #fff;">Proposed: 30</span>
<span class="t" style="left:712.80px;top:301.20px;font-size:11px;color:#fff;transform:scaleX(0.9443);-webkit-text-stroke:.42px #fff;">Ongoing: 39</span>
<span class="t" style="left:934.00px;top:259.52px;font-size:11.1px;color:#fff;transform:scaleX(0.9390);-webkit-text-stroke:.42px #fff;">Public Toilet</span>
<span class="t" style="left:889.30px;top:282.40px;font-size:11px;color:#fdeedd;transform:scaleX(0.9001);-webkit-text-stroke:.42px #fdeedd;">Proposed: 1</span>
<span class="t" style="left:889.30px;top:301.20px;font-size:11px;color:#fdeedd;transform:scaleX(0.8914);-webkit-text-stroke:.42px #fdeedd;">Existing: 12</span>
<span class="t" style="left:1125.00px;top:267.02px;font-size:11.1px;color:#fff;transform:scaleX(0.9139);-webkit-text-stroke:.42px #fff;">School</span>
<span class="t" style="left:1111.95px;top:296.34px;font-size:28px;color:#fff;transform:scaleX(0.9533);">32</span>
<span class="t" style="left:247.30px;top:445.58px;font-size:10.2px;color:#1f3a80;font-weight:700;transform:scaleX(0.9109);">Tap Flow Condition</span>
<span class="t" style="left:190.70px;top:601.51px;font-size:7.8px;color:#222;font-weight:700;transform:scaleX(0.8767);">Water Flow Condition</span>
<span class="t" style="left:361.50px;top:601.51px;font-size:7.8px;color:#222;font-weight:700;transform:scaleX(0.8788);">Population</span>
<span class="t" style="left:433.70px;top:601.51px;font-size:7.8px;color:#222;font-weight:700;transform:scaleX(0.8586);">Percentage</span>
<span class="t" style="left:108.60px;top:614.31px;font-size:7.8px;color:#555;transform:scaleX(0.8778);">Sufficient for all daily needs</span>
<span class="t" style="left:373.21px;top:614.31px;font-size:7.8px;color:#555;transform:scaleX(0.9200);">107</span>
<span class="t" style="left:471.44px;top:614.31px;font-size:7.8px;color:#555;transform:scaleX(0.9200);">4.5%</span>
<span class="t" style="left:108.60px;top:627.11px;font-size:7.8px;color:#555;transform:scaleX(0.8884);">Sufficient for drinking,cooking,washing</span>
<span class="t" style="left:373.21px;top:627.11px;font-size:7.8px;color:#555;transform:scaleX(0.9200);">363</span>
<span class="t" style="left:467.46px;top:627.11px;font-size:7.8px;color:#555;transform:scaleX(0.9200);">15.1%</span>
<span class="t" style="left:108.60px;top:639.31px;font-size:7.8px;color:#555;transform:scaleX(0.9013);">Sufficient for drinking</span>
<span class="t" style="left:377.20px;top:639.31px;font-size:7.8px;color:#555;transform:scaleX(0.9200);">0</span>
<span class="t" style="left:477.42px;top:639.31px;font-size:7.8px;color:#555;transform:scaleX(0.9200);">0%</span>
<span class="t" style="left:108.60px;top:652.11px;font-size:7.8px;color:#555;transform:scaleX(0.9055);">Water but not sufficient for drinking</span>
<span class="t" style="left:377.20px;top:652.11px;font-size:7.8px;color:#555;transform:scaleX(0.9200);">0</span>
<span class="t" style="left:477.42px;top:652.11px;font-size:7.8px;color:#555;transform:scaleX(0.9200);">0%</span>
<span class="t" style="left:108.60px;top:664.91px;font-size:7.8px;color:#555;transform:scaleX(0.8787);">No water at all</span>
<span class="t" style="left:371.21px;top:664.91px;font-size:7.8px;color:#555;transform:scaleX(0.9200);">1930</span>
<span class="t" style="left:467.46px;top:664.91px;font-size:7.8px;color:#555;transform:scaleX(0.9200);">80.4%</span>
<span class="t" style="left:108.60px;top:677.01px;font-size:7.8px;color:#555;transform:scaleX(0.8738);">No Data</span>
<span class="t" style="left:377.20px;top:677.01px;font-size:7.8px;color:#555;transform:scaleX(0.9200);">0</span>
<span class="t" style="left:477.42px;top:677.01px;font-size:7.8px;color:#555;transform:scaleX(0.9200);">0%</span>
<span class="t" style="left:108.60px;top:689.01px;font-size:7.8px;color:#555;transform:scaleX(0.8372);">Total</span>
<span class="t" style="left:371.21px;top:689.01px;font-size:7.8px;color:#555;transform:scaleX(0.9200);">2400</span>
<span class="t" style="left:469.44px;top:689.01px;font-size:7.8px;color:#555;transform:scaleX(0.9200);">100%</span>
<span class="t" style="left:282.30px;top:468.25px;font-size:6.8px;color:#fff;font-weight:700;transform:scaleX(0.9000);">0.0%</span>
<span class="t" style="left:289.50px;top:468.25px;font-size:6.8px;color:#fff;transform:scaleX(0.9000);">4.5%</span>
<span class="t" style="left:310.50px;top:478.85px;font-size:6.8px;color:#fff;transform:scaleX(0.9000);">15.1%</span>
<span class="t" style="left:322.60px;top:493.85px;font-size:6.8px;color:#fff;font-weight:700;transform:scaleX(0.9000);">0.0%</span>
<span class="t" style="left:256.20px;top:537.85px;font-size:6.8px;color:#fff;transform:scaleX(0.9000);">80.4%</span>
<span class="t" style="left:692.80px;top:389.26px;font-size:20.4px;color:#3a3a3a;transform:scaleX(1.0618);">Household Level Sanitation Status</span>
<span class="t" style="left:611.90px;top:437.44px;font-size:8.0px;color:#444;transform:scaleX(0.9893);">Household Level Toilet Availability</span>
<span class="t" style="left:685.47px;top:509.95px;font-size:6.8px;color:#fff;font-weight:700;transform:scaleX(0.9200);">9.0%</span>
<span class="t" style="left:710.03px;top:596.25px;font-size:6.8px;color:#fff;font-weight:700;transform:scaleX(0.9200);">91.0%</span>
<span class="t" style="left:634.90px;top:671.52px;font-size:7.2px;color:#444;transform:scaleX(0.9054);">Available</span>
<span class="t" style="left:671.00px;top:671.52px;font-size:7.2px;color:#444;transform:scaleX(0.8828);">91.0%</span>
<span class="t" style="left:708.10px;top:671.52px;font-size:7.2px;color:#444;transform:scaleX(0.9052);">Unavailable</span>
<span class="t" style="left:755.00px;top:671.52px;font-size:7.2px;color:#444;transform:scaleX(0.8847);">9.0%</span>
<span class="t" style="left:799.50px;top:437.58px;font-size:10.2px;color:#333;">Toilet Type</span>
<span class="t" style="left:820.10px;top:505.64px;font-size:9.3px;color:#3a3a3a;transform:scaleX(0.9300);">Flush</span>
<span class="t" style="left:913.88px;top:505.64px;font-size:9.3px;color:#3a3a3a;transform:scaleX(0.9300);">1.3%</span>
<span class="t" style="left:820.10px;top:526.74px;font-size:9.3px;color:#3a3a3a;transform:scaleX(0.9300);">Pour Flush</span>
<span class="t" style="left:909.07px;top:526.74px;font-size:9.3px;color:#3a3a3a;transform:scaleX(0.9300);">90.2%</span>
<span class="t" style="left:820.10px;top:548.14px;font-size:9.3px;color:#3a3a3a;transform:scaleX(0.9300);">Pit Slab With</span>
<span class="t" style="left:820.10px;top:559.64px;font-size:9.3px;color:#3a3a3a;transform:scaleX(0.9300);">Laterine</span>
<span class="t" style="left:913.88px;top:553.84px;font-size:9.3px;color:#3a3a3a;transform:scaleX(0.9300);">0.2%</span>
<span class="t" style="left:820.10px;top:580.04px;font-size:9.3px;color:#3a3a3a;transform:scaleX(0.9300);">Composting</span>
<span class="t" style="left:913.88px;top:580.04px;font-size:9.3px;color:#3a3a3a;transform:scaleX(0.9300);">0.0%</span>
<span class="t" style="left:820.10px;top:601.54px;font-size:9.3px;color:#3a3a3a;transform:scaleX(0.9300);">Hanging</span>
<span class="t" style="left:913.88px;top:601.54px;font-size:9.3px;color:#3a3a3a;transform:scaleX(0.9300);">0.2%</span>
<span class="t" style="left:1132.54px;top:602.44px;font-size:9.3px;color:#fff;transform:scaleX(0.9300);">90.2%</span>
<span class="t" style="left:1112.14px;top:498.64px;font-size:9.3px;color:#ffe9c4;transform:scaleX(0.9300);">8.2%</span>
<span class="t" style="left:1124.64px;top:498.64px;font-size:9.3px;color:#fff;transform:scaleX(0.9300);">1.3%</span>
<span class="t" style="left:1096.69px;top:506.33px;font-size:8.6px;color:#fff;font-weight:700;transform:scaleX(0.9300);">0.0%</span>
<span class="t" style="left:1095.89px;top:506.33px;font-size:8.6px;color:#fff;font-weight:700;transform:scaleX(0.9300);">0.2%</span>
<span class="t" style="left:1097.29px;top:506.33px;font-size:8.6px;color:#fff;font-weight:700;transform:scaleX(0.9300);">0.2%</span>
<span class="t" style="left:145.30px;top:123.71px;font-size:4.6px;color:#222;font-weight:700;transform:scaleX(0.9500);">Karnali</span>
<span class="t" style="left:145.30px;top:129.11px;font-size:4.6px;color:#222;font-weight:700;transform:scaleX(0.9500);">Province</span>
<span class="t" style="left:174.30px;top:139.91px;font-size:4.6px;color:#222;font-weight:700;transform:scaleX(0.9500);">Gandaki</span>
<span class="t" style="left:176.10px;top:145.21px;font-size:4.6px;color:#222;font-weight:700;transform:scaleX(0.9500);">Province</span>
<span class="t" style="left:201.80px;top:155.61px;font-size:4.6px;color:#222;font-weight:700;transform:scaleX(0.9500);">Bagmati</span>
<span class="t" style="left:201.80px;top:160.91px;font-size:4.6px;color:#222;font-weight:700;transform:scaleX(0.9500);">Province</span>
<span class="t" style="left:221.70px;top:168.11px;font-size:4.6px;color:#222;font-weight:700;transform:scaleX(0.9763);">Province 1</span>
<span class="t" style="left:78.20px;top:162.71px;font-size:4.6px;color:#222;font-weight:700;transform:scaleX(1.0087);">Sudurpaschim</span>
<span class="t" style="left:78.20px;top:168.51px;font-size:4.6px;color:#222;font-weight:700;transform:scaleX(0.9791);">Province</span>
<span class="t" style="left:126.10px;top:186.61px;font-size:4.6px;color:#222;font-weight:700;transform:scaleX(0.9849);">Province 5</span>
<span class="t" style="left:176.40px;top:201.11px;font-size:4.6px;color:#222;font-weight:700;">Province 2</span>
<span class="t" style="left:142.30px;top:208.32px;font-size:7.2px;color:#111;font-weight:700;transform:scaleX(0.9862);text-decoration:underline;text-decoration-thickness:.7px;text-underline-offset:.8px;">NEPAL</span>
<span class="t" style="left:84.40px;top:246.43px;font-size:6.0px;color:#222;font-weight:700;transform:scaleX(0.8637);">MAKAWANPUR</span>
<span class="t" style="left:151.00px;top:254.93px;font-size:6.0px;color:#222;font-weight:700;transform:scaleX(0.8362);">SINDHULI</span>
<span class="t" style="left:75.00px;top:303.43px;font-size:6.0px;color:#222;font-weight:700;transform:scaleX(0.8879);">RAUTAHAT</span>
<span class="t" style="left:144.00px;top:319.73px;font-size:6.0px;color:#222;font-weight:700;transform:scaleX(0.8661);">SARLAHI</span>
<span class="t" style="left:176.60px;top:354.63px;font-size:6.0px;color:#222;font-weight:700;transform:scaleX(0.8633);">MAHOTTARI</span>
<span class="t" style="left:106.60px;top:393.81px;font-size:7.8px;color:#111;font-weight:700;transform:scaleX(0.9574);">Sarlahi District</span>
<span class="t" style="left:141.03px;top:289.15px;font-size:3.3px;color:#333;font-weight:700;font-style:italic;">20502</span>
<span class="t" style="left:168.19px;top:289.15px;font-size:3.3px;color:#333;font-weight:700;font-style:italic;">20501</span>
<span class="t" style="left:117.40px;top:295.52px;font-size:3.3px;color:#333;font-weight:700;font-style:italic;">20503</span>
<span class="t" style="left:133.47px;top:314.19px;font-size:3.3px;color:#333;font-weight:700;font-style:italic;">20505</span>
<span class="t" style="left:171.27px;top:314.66px;font-size:3.3px;color:#333;font-weight:700;font-style:italic;">20506</span>
<span class="t" style="left:111.02px;top:322.45px;font-size:3.3px;color:#333;font-weight:700;font-style:italic;">20504</span>
<span class="t" style="left:131.69px;top:333.56px;font-size:3.3px;color:#333;font-weight:700;font-style:italic;">20511</span>
<span class="t" style="left:146.93px;top:334.27px;font-size:3.3px;color:#333;font-weight:700;font-style:italic;">20513</span>
<span class="t" style="left:107.95px;top:337.81px;font-size:3.3px;color:#333;font-weight:700;font-style:italic;">20507</span>
<span class="t" style="left:125.20px;top:344.66px;font-size:3.3px;color:#333;font-weight:700;font-style:italic;">20512</span>
<span class="t" style="left:168.90px;top:341.35px;font-size:3.3px;color:#333;font-weight:700;font-style:italic;">20508</span>
<span class="t" style="left:99.21px;top:349.39px;font-size:3.3px;color:#333;font-weight:700;font-style:italic;">20514</span>
<span class="t" style="left:150.00px;top:347.26px;font-size:3.3px;color:#333;font-weight:700;font-style:italic;">20509</span>
<span class="t" style="left:161.82px;top:351.28px;font-size:3.3px;color:#333;font-weight:700;font-style:italic;">20510</span>
<span class="t" style="left:94.49px;top:362.62px;font-size:3.3px;color:#333;font-weight:700;font-style:italic;">20515</span>
<span class="t" style="left:108.66px;top:361.43px;font-size:3.3px;color:#333;font-weight:700;font-style:italic;">20517</span>
<span class="t" style="left:124.40px;top:355.29px;font-size:3.3px;color:#333;font-weight:700;font-style:italic;">20519/20520</span>
<span class="t" style="left:116.22px;top:369.70px;font-size:3.3px;color:#333;font-weight:700;font-style:italic;">20518</span>
<span class="t" style="left:90.94px;top:375.61px;font-size:3.3px;color:#333;font-weight:700;font-style:italic;">20516</span>
<span class="t" style="left:210.90px;top:292.01px;font-size:3.3px;color:#666;">Code</span>
<span class="t" style="left:227.30px;top:292.01px;font-size:3.3px;color:#666;transform:scaleX(1.0500);">Local Bodies</span>
<span class="t" style="left:210.90px;top:297.04px;font-size:3.3px;color:#2a2a2a;">20501</span>
<span class="t" style="left:227.30px;top:297.04px;font-size:3.3px;color:#2a2a2a;transform:scaleX(1.0500);">Lalbandi Nagarpalika</span>
<span class="t" style="left:210.90px;top:302.06px;font-size:3.3px;color:#2a2a2a;">20502</span>
<span class="t" style="left:227.30px;top:302.06px;font-size:3.3px;color:#2a2a2a;transform:scaleX(1.0500);">Hariwan Nagarpalika</span>
<span class="t" style="left:210.90px;top:307.08px;font-size:3.3px;color:#2a2a2a;">20503</span>
<span class="t" style="left:227.30px;top:307.08px;font-size:3.3px;color:#2a2a2a;transform:scaleX(1.0500);">Bagmati Nagarpalika</span>
<span class="t" style="left:210.90px;top:312.11px;font-size:3.3px;color:#2a2a2a;">20504</span>
<span class="t" style="left:227.30px;top:312.11px;font-size:3.3px;color:#2a2a2a;transform:scaleX(1.0500);">Barahathawa Nagarpalika</span>
<span class="t" style="left:210.90px;top:317.13px;font-size:3.3px;color:#2a2a2a;">20505</span>
<span class="t" style="left:227.30px;top:317.13px;font-size:3.3px;color:#2a2a2a;transform:scaleX(1.0500);">Haripur Nagarpalika</span>
<span class="t" style="left:210.90px;top:322.16px;font-size:3.3px;color:#2a2a2a;">20506</span>
<span class="t" style="left:227.30px;top:322.16px;font-size:3.3px;color:#2a2a2a;transform:scaleX(1.0500);">Ishworpur Nagarpalika</span>
<span class="t" style="left:210.90px;top:327.18px;font-size:3.3px;color:#2a2a2a;">20507</span>
<span class="t" style="left:227.30px;top:327.18px;font-size:3.3px;color:#2a2a2a;transform:scaleX(1.0500);">Haripurwa Nagarpalika</span>
<span class="t" style="left:210.90px;top:332.20px;font-size:3.3px;color:#2a2a2a;">20508</span>
<span class="t" style="left:227.30px;top:332.20px;font-size:3.3px;color:#2a2a2a;transform:scaleX(1.0500);">Parsa Gaunpalika</span>
<span class="t" style="left:210.90px;top:337.23px;font-size:3.3px;color:#2a2a2a;">20509</span>
<span class="t" style="left:227.30px;top:337.23px;font-size:3.3px;color:#2a2a2a;transform:scaleX(1.0500);">Bramhapuri Gaunpalika</span>
<span class="t" style="left:210.90px;top:342.25px;font-size:3.3px;color:#2a2a2a;">20510</span>
<span class="t" style="left:227.30px;top:342.25px;font-size:3.3px;color:#2a2a2a;transform:scaleX(1.0500);">Chandranagar Gaunpalika</span>
<span class="t" style="left:210.90px;top:347.28px;font-size:3.3px;color:#2a2a2a;">20511</span>
<span class="t" style="left:227.30px;top:347.28px;font-size:3.3px;color:#2a2a2a;transform:scaleX(1.0500);">Kabilasi Nagarpalika</span>
<span class="t" style="left:210.90px;top:352.30px;font-size:3.3px;color:#2a2a2a;">20512</span>
<span class="t" style="left:227.30px;top:352.30px;font-size:3.3px;color:#2a2a2a;transform:scaleX(1.0500);">Chakraghatta Gaunpalika</span>
<span class="t" style="left:210.90px;top:357.32px;font-size:3.3px;color:#2a2a2a;">20513</span>
<span class="t" style="left:227.30px;top:357.32px;font-size:3.3px;color:#2a2a2a;transform:scaleX(1.0500);">Basbariya Gaunpalika</span>
<span class="t" style="left:210.90px;top:362.35px;font-size:3.3px;color:#2a2a2a;">20514</span>
<span class="t" style="left:227.30px;top:362.35px;font-size:3.3px;color:#2a2a2a;transform:scaleX(1.0500);">Dhankaul Gaunpalika</span>
<span class="t" style="left:210.90px;top:367.37px;font-size:3.3px;color:#2a2a2a;">20515</span>
<span class="t" style="left:227.30px;top:367.37px;font-size:3.3px;color:#2a2a2a;transform:scaleX(1.0500);">Ramnagar Gaunpalika</span>
<span class="t" style="left:210.90px;top:372.40px;font-size:3.3px;color:#2a2a2a;">20516</span>
<span class="t" style="left:227.30px;top:372.40px;font-size:3.3px;color:#2a2a2a;transform:scaleX(1.0500);">Balara Nagarpalika</span>
<span class="t" style="left:210.90px;top:377.42px;font-size:3.3px;color:#2a2a2a;">20517</span>
<span class="t" style="left:227.30px;top:377.42px;font-size:3.3px;color:#2a2a2a;transform:scaleX(1.0500);">Godaita Nagarpalika</span>
<span class="t" style="left:210.90px;top:382.44px;font-size:3.3px;color:#2a2a2a;">20518</span>
<span class="t" style="left:227.30px;top:382.44px;font-size:3.3px;color:#2a2a2a;transform:scaleX(1.0500);">Bishnu Gaunpalika</span>
<span class="t" style="left:210.90px;top:387.47px;font-size:3.3px;color:#2a2a2a;">20519</span>
<span class="t" style="left:227.30px;top:387.47px;font-size:3.3px;color:#2a2a2a;transform:scaleX(1.0500);">Kaudena Gaunpalika</span>
<span class="t" style="left:210.90px;top:392.49px;font-size:3.3px;color:#2a2a2a;">20520</span>
<span class="t" style="left:227.30px;top:392.49px;font-size:3.3px;color:#2a2a2a;transform:scaleX(1.0500);">Malangawa Nagarpalika</span>
<span class="t" style="left:306.49px;top:141.71px;font-size:4.6px;color:#222;font-weight:700;font-style:italic;transform:scaleX(0.9500);">Bagmati</span>
<span class="t" style="left:302.73px;top:146.81px;font-size:4.6px;color:#222;font-weight:700;font-style:italic;transform:scaleX(0.9500);">Nagarpalika</span>
<span class="t" style="left:421.71px;top:160.11px;font-size:4.6px;color:#222;font-weight:700;font-style:italic;transform:scaleX(0.9500);">Hariwan</span>
<span class="t" style="left:417.83px;top:165.41px;font-size:4.6px;color:#222;font-weight:700;font-style:italic;transform:scaleX(0.9500);">Nagarpalika</span>
<span class="t" style="left:479.03px;top:135.41px;font-size:4.6px;color:#222;font-weight:700;font-style:italic;transform:scaleX(0.9500);">Lalbandi</span>
<span class="t" style="left:475.63px;top:141.01px;font-size:4.6px;color:#222;font-weight:700;font-style:italic;transform:scaleX(0.9500);">Nagarpalika</span>
<span class="t" style="left:382.94px;top:235.01px;font-size:4.6px;color:#222;font-weight:700;font-style:italic;transform:scaleX(0.9500);">Haripur</span>
<span class="t" style="left:378.33px;top:240.51px;font-size:4.6px;color:#222;font-weight:700;font-style:italic;transform:scaleX(0.9500);">Nagarpalika</span>
<span class="t" style="left:306.61px;top:321.21px;font-size:4.6px;color:#222;font-weight:700;font-style:italic;transform:scaleX(0.9500);">Barahathawa</span>
<span class="t" style="left:307.83px;top:326.81px;font-size:4.6px;color:#222;font-weight:700;font-style:italic;transform:scaleX(0.9500);">Nagarpalika</span>
<span class="t" style="left:348.93px;top:365.41px;font-size:4.6px;color:#222;font-weight:700;font-style:italic;transform:scaleX(0.9500);">Kabilasi</span>
<span class="t" style="left:344.93px;top:371.21px;font-size:4.6px;color:#222;font-weight:700;font-style:italic;transform:scaleX(0.9500);">Nagarpalika</span>
<span class="t" style="left:482.70px;top:381.41px;font-size:4.6px;color:#222;font-weight:700;font-style:italic;transform:scaleX(0.9500);">Chandranagar</span>
<span class="t" style="left:485.74px;top:386.71px;font-size:4.6px;color:#222;font-weight:700;font-style:italic;transform:scaleX(0.9500);">Gaunpalika</span>
<span class="t" style="left:514.45px;top:355.81px;font-size:4.6px;color:#222;font-weight:700;font-style:italic;transform:scaleX(0.9500);">Ishworpur</span>
<span class="t" style="left:512.63px;top:361.11px;font-size:4.6px;color:#222;font-weight:700;font-style:italic;transform:scaleX(0.9500);">Nagarpalika</span>
<span class="t" style="left:353.50px;top:401.98px;font-size:7.6px;color:#222;font-weight:700;transform:scaleX(0.9079);text-decoration:underline;text-decoration-thickness:.7px;text-underline-offset:.8px;">Haripur Nagarpalika (20505)</span>
<span class="t" style="left:359.31px;top:385.90px;font-size:3.2px;color:#333;">1</span>
<span class="t" style="left:379.11px;top:385.90px;font-size:3.2px;color:#333;">0</span>
<span class="t" style="left:398.91px;top:385.90px;font-size:3.2px;color:#333;">1</span>
<span class="t" style="left:417.04px;top:385.90px;font-size:3.2px;color:#333;">2 km</span>
<span class="t" style="left:451.01px;top:199.46px;font-size:3.4px;color:#333;">Bara Jagatpur</span>
<span class="t" style="left:488.23px;top:196.13px;font-size:3.4px;color:#333;">Parsara</span>
<span class="t" style="left:501.22px;top:190.13px;font-size:3.4px;color:#333;">Kusumbarari</span>
<span class="t" style="left:487.70px;top:213.13px;font-size:3.4px;color:#333;">Jogapur</span>
<span class="t" style="left:521.15px;top:210.46px;font-size:3.4px;color:#333;">Sahodawa</span>
<span class="t" style="left:435.52px;top:225.79px;font-size:3.4px;color:#333;">Sakhuwa</span>
<span class="t" style="left:432.19px;top:231.46px;font-size:3.4px;color:#333;">Sakhuwa</span>
<span class="t" style="left:471.92px;top:232.63px;font-size:3.4px;color:#333;">Ramban</span>
<span class="t" style="left:418.54px;top:239.46px;font-size:3.4px;color:#333;">Khairwa</span>
<span class="t" style="left:464.99px;top:246.46px;font-size:3.4px;color:#333;">Harkhai</span>
<span class="t" style="left:500.89px;top:237.13px;font-size:3.4px;color:#333;">Dakshinia</span>
<span class="t" style="left:508.92px;top:244.46px;font-size:3.4px;color:#333;">Shahpur</span>
<span class="t" style="left:492.55px;top:253.13px;font-size:3.4px;color:#333;">Pachgachhiyatol</span>
<span class="t" style="left:457.76px;top:267.96px;font-size:3.4px;color:#333;">Belkanapur</span>
<span class="t" style="left:429.17px;top:278.13px;font-size:3.4px;color:#333;">Pidari Chowk</span>
<span class="t" style="left:462.40px;top:277.63px;font-size:3.4px;color:#333;">Lakshmipur</span>
<span class="t" style="left:441.60px;top:317.13px;font-size:3.4px;color:#333;">Haripur</span>
<span class="t" style="left:497.11px;top:337.63px;font-size:3.4px;color:#333;">Mujoliya</span>
<span class="t" style="left:466.61px;top:363.79px;font-size:3.4px;color:#333;">Hajariya</span>
<span class="t" style="left:398.85px;top:309.13px;font-size:3.4px;color:#333;">Atrauli</span>
<span class="t" style="left:526.91px;top:324.79px;font-size:3.4px;color:#333;">Jamuniya</span>
<span class="t" style="left:524.16px;top:125.77px;font-size:3.0px;color:#333;">Nawalpur</span>
<span class="t" style="left:495.16px;top:206.95px;font-size:4.2px;color:#222;font-weight:700;">8</span>
<span class="t" style="left:455.49px;top:227.78px;font-size:4.2px;color:#222;font-weight:700;">2</span>
<span class="t" style="left:502.16px;top:243.12px;font-size:4.2px;color:#222;font-weight:700;">7</span>
<span class="t" style="left:461.33px;top:286.12px;font-size:4.2px;color:#222;font-weight:700;">6</span>
<span class="t" style="left:415.49px;top:294.45px;font-size:4.2px;color:#222;font-weight:700;">5</span>
<span class="t" style="left:447.66px;top:326.45px;font-size:4.2px;color:#222;font-weight:700;">4</span>
<span class="t" style="left:498.49px;top:302.45px;font-size:4.2px;color:#222;font-weight:700;">9</span>
<span class="t" style="left:463.83px;top:361.12px;font-size:4.2px;color:#222;font-weight:700;">3</span>
<span class="t" style="left:363.53px;top:229.45px;font-size:4.2px;color:#222;font-weight:700;">1</span>
</div>
</body></html>
